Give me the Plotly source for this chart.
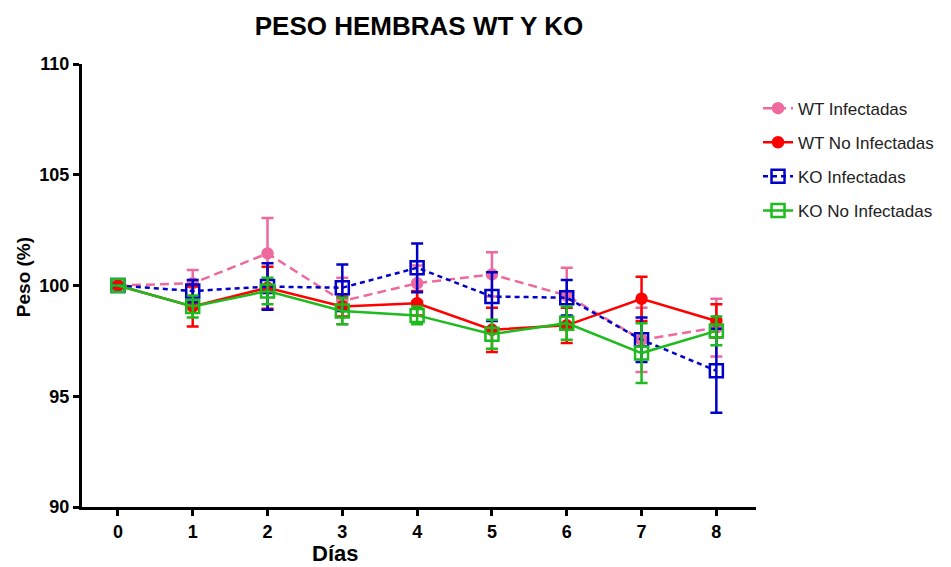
import plotly.graph_objects as go

days = [0, 1, 2, 3, 4, 5, 6, 7, 8]

wt_inf = [100, 100.1, 101.45, 99.3, 100.1, 100.5, 99.55, 97.55, 98.1]
wt_inf_err = [0, 0.6, 1.6, 1.05, 0.8, 1.0, 1.25, 1.45, 1.3]

wt_no = [100, 99.05, 99.9, 99.05, 99.2, 98.0, 98.2, 99.4, 98.4]
wt_no_err = [0, 0.9, 0.95, 0.45, 0.55, 1.0, 0.8, 1.0, 0.75]

ko_inf = [100, 99.75, 99.95, 99.9, 100.8, 99.5, 99.45, 97.55, 96.15]
ko_inf_err = [0, 0.5, 1.05, 1.05, 1.1, 1.1, 0.8, 1.0, 1.9]

ko_no = [100, 99.05, 99.75, 98.85, 98.65, 97.8, 98.3, 96.95, 97.95]
ko_no_err = [0, 0.5, 0.6, 0.6, 0.4, 0.65, 0.75, 1.35, 0.65]

names = ["WT Infectadas", "WT No Infectadas", "KO Infectadas", "KO No Infectadas"]
colors = ["#EE6A9E", "#FF0000", "#0000C8", "#1EBB1E"]

FONT = "Arial, Liberation Sans, sans-serif"

fig = go.Figure()

specs = [
    (wt_inf, wt_inf_err, names[0], colors[0], "9px,5px", "circle", 10),
    (wt_no, wt_no_err, names[1], colors[1], "solid", "circle", 10),
    (ko_inf, ko_inf_err, names[2], colors[2], "5px,4px", "square-open", 13),
    (ko_no, ko_no_err, names[3], colors[3], "solid", "square-open", 13),
]

for i, (vals, errs, name, col, dash, sym, size) in enumerate(specs):
    fig.add_trace(go.Scatter(
        x=days, y=vals, name=name, mode="lines+markers",
        legendgroup=name,
        line=dict(color=col, width=2.5, dash=dash),
        marker=dict(color=col, symbol=sym, size=size,
                    line=dict(color=col, width=2.5)),
        error_y=dict(type="data", array=errs, visible=True,
                     color=col, thickness=2.5, width=6),
    ))

fig.update_layout(
    width=951, height=567,
    margin=dict(l=82, r=193, t=64, b=60),
    paper_bgcolor="white", plot_bgcolor="white",
    font=dict(family=FONT, color="black"),
    title=dict(text="<b>PESO HEMBRAS WT Y KO</b>", x=0.5, xref="paper",
               y=1 - 26 / 567, yanchor="middle",
               font=dict(size=26, family=FONT, color="black")),
    showlegend=True,
    legend=dict(x=1.003, xanchor="left", y=0.94, yanchor="top",
                traceorder="grouped", tracegroupgap=9,
                font=dict(size=17, family=FONT, color="#222222"),
                bgcolor="rgba(0,0,0,0)"),
    xaxis=dict(range=[-0.48, 8.53], tickmode="array", tickvals=days,
               ticktext=[str(d) for d in days],
               showgrid=False, zeroline=False, showline=True,
               linecolor="black", linewidth=3, ticks="outside",
               ticklen=6, tickwidth=2.5, tickcolor="black",
               tickfont=dict(size=18, family=FONT, color="black", weight=700)),
    yaxis=dict(range=[90, 110], tickvals=[90, 95, 100, 105, 110],
               showgrid=False, zeroline=False, showline=True,
               linecolor="black", linewidth=3, ticks="outside",
               ticklen=6, tickwidth=2.5, tickcolor="black",
               tickfont=dict(size=18, family=FONT, color="black", weight=700)),
)

fig.add_annotation(text="<b>Días</b>", xref="paper", yref="paper",
                   x=(336 - 82) / 676, y=(507 - 553) / 443,
                   xanchor="center", yanchor="middle", showarrow=False,
                   font=dict(size=22, family=FONT, color="black"))
fig.add_annotation(text="<b>Peso (%)</b>", xref="paper", yref="paper",
                   x=(23 - 82) / 676, y=(507 - 277) / 443, textangle=-90,
                   xanchor="center", yanchor="middle", showarrow=False,
                   font=dict(size=19, family=FONT, color="black"))

fig.write_html("out.html")
